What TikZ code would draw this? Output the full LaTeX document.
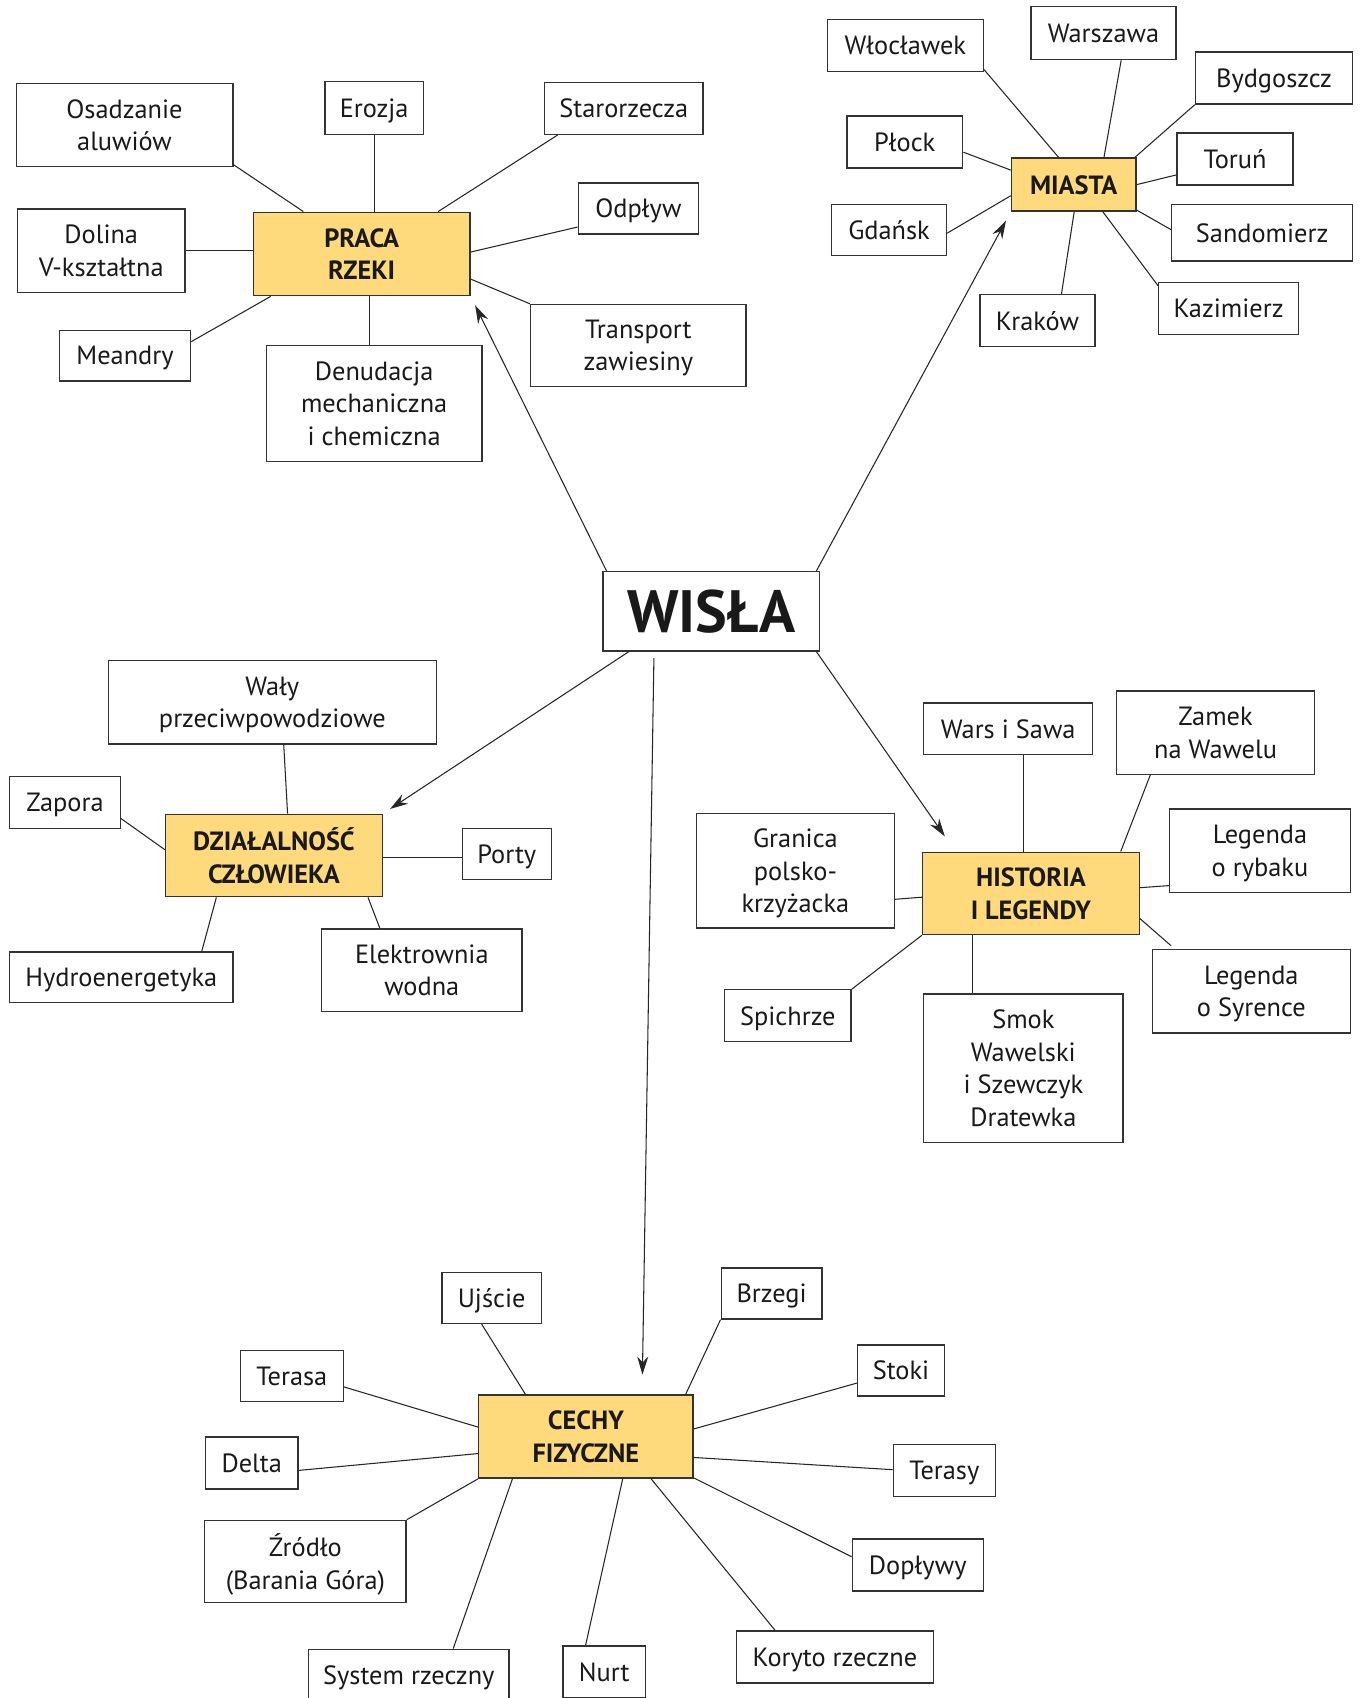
\documentclass[tikz,border=0pt]{standalone}
\usepackage{fontspec}
\setmainfont{PT Sans}
\usetikzlibrary{arrows.meta}

\definecolor{hubyellow}{RGB}{254,218,125}
\newcommand{\pxu}{0.02165cm}

\begin{document}
\begin{tikzpicture}[x=\pxu, y=-\pxu,
    leaf/.style={draw=black!80, line width=0.8pt, fill=white, align=center, inner sep=0pt, text depth=0pt, text=black!90, font=\fontsize{15}{18.5}\selectfont},
    hub/.style={leaf, fill=hubyellow, font=\fontsize{15}{18.5}\selectfont\bfseries},
    sz/.style 2 args={minimum width=#1*\pxu, minimum height=#2*\pxu},
    link/.style={draw=black!85, line width=0.6pt},
    arr/.style={link, -{Stealth[length=3.6mm, width=2.2mm]}}]

    % Page frame
    \fill[white] (0,0) rectangle (1258,1568);
    \useasboundingbox (0,0) rectangle (1258,1568);

    % Draw the PRACA RZEKI group
    \node[hub, sz={200}{77}] (praca) at (334,234.5) {PRACA\\RZEKI};
    \node[leaf, sz={200}{77}] (osadzanie) at (115,115.5) {Osadzanie\\aluwiów};
    \node[leaf, sz={91}{49}] (erozja) at (345.5,99.5) {Erozja};
    \node[leaf, sz={146}{48}] (starorzecza) at (576,100) {Starorzecza};
    \node[leaf, sz={111}{47}] (odplyw) at (589.5,192.5) {Odpływ};
    \node[leaf, sz={155}{77}] (dolina) at (93.5,231.5) {Dolina\\V-kształtna};
    \node[leaf, sz={121}{47}] (meandry) at (115.5,328.5) {Meandry};
    \node[leaf, sz={199}{107}] (denudacja) at (345.5,372.5) {Denudacja\\mechaniczna\\i chemiczna};
    \node[leaf, sz={199}{76}] (transport) at (589.5,319) {Transport\\zawiesiny};

    \draw[link] (osadzanie.-20) -- (praca.144);
    \draw[link] (erozja.south) -- (erozja.south |- praca.north);
    \draw[link] (starorzecza.202) -- (praca.29);
    \draw[link] (odplyw.197) -- (praca.1);
    \draw[link] (dolina.east) -- (dolina.east -| praca.west);
    \draw[link] (meandry.12) -- (praca.205);
    \draw[link] (praca.-80) -- (praca.-80 |- denudacja.north);
    \draw[link] (transport.159) -- (praca.-13);

    % Draw the MIASTA group
    \node[hub, sz={115}{49}] (miasta) at (991.5,170.5) {MIASTA};
    \node[leaf, sz={144}{48}] (wloclawek) at (836,42) {Włocławek};
    \node[leaf, sz={134}{49}] (warszawa) at (1019,30.5) {Warszawa};
    \node[leaf, sz={145}{48}] (bydgoszcz) at (1176.5,72) {Bydgoszcz};
    \node[leaf, sz={107}{48}] (plock) at (835.5,131) {Płock};
    \node[leaf, sz={107}{48}] (torun) at (1140.5,147) {Toruń};
    \node[leaf, sz={106}{47}] (gdansk) at (821,212.5) {Gdańsk};
    \node[leaf, sz={167}{52}] (sandomierz) at (1165.5,215) {Sandomierz};
    \node[leaf, sz={106}{48}] (krakow) at (958,296) {Kraków};
    \node[leaf, sz={129}{48}] (kazimierz) at (1134.5,285) {Kazimierz};

    \draw[link] (wloclawek.-17) -- (miasta.119);
    \draw[link] (warszawa.-57) -- (miasta.42);
    \draw[link] (bydgoszcz.south west) -- (miasta.24);
    \draw[link] (plock.-10) -- (miasta.167);
    \draw[link] (torun.195) -- (miasta.0);
    \draw[link] (gdansk.-3) -- (miasta.190);
    \draw[link] (sandomierz.178) -- (miasta.-22);
    \draw[link] (krakow.48) -- (miasta.-89);
    \draw[link] (kazimierz.162) -- (miasta.-43);

    % Draw the DZIAŁALNOŚĆ CZŁOWIEKA group
    \node[hub, sz={200}{76}] (dzialalnosc) at (253,790) {DZIAŁALNOŚĆ\\CZŁOWIEKA};
    \node[leaf, sz={303}{77}] (waly) at (251.5,648.5) {Wały\\przeciwpowodziowe};
    \node[leaf, sz={102}{48}] (zapora) at (60,741) {Zapora};
    \node[leaf, sz={82}{47}] (porty) at (468,788.5) {Porty};
    \node[leaf, sz={206}{47}] (hydro) at (112,902.5) {Hydroenergetyka};
    \node[leaf, sz={185}{76}] (elektrownia) at (389.5,896) {Elektrownia\\wodna};

    \draw[link] (waly.-75) -- (dzialalnosc.72);
    \draw[link] (zapora.-16) -- (dzialalnosc.177);
    \draw[link] (porty.185) -- (porty.185 -| dzialalnosc.east);
    \draw[link] (hydro.18) -- (dzialalnosc.216);
    \draw[link] (elektrownia.135) -- (dzialalnosc.-24);

    % Draw the HISTORIA I LEGENDY group
    \node[hub, sz={200}{76}] (historia) at (952,825) {HISTORIA\\I LEGENDY};
    \node[leaf, sz={156}{48}] (wars) at (931,673) {Wars i Sawa};
    \node[leaf, sz={183}{77}] (zamek) at (1122.5,676.5) {Zamek\\na Wawelu};
    \node[leaf, sz={183}{106}] (granica) at (734.5,804) {Granica\\polsko-\\krzyżacka};
    \node[leaf, sz={167}{77}] (rybak) at (1163.5,785.5) {Legenda\\o rybaku};
    \node[leaf, sz={117}{48}] (spichrze) at (727.5,938) {Spichrze};
    \node[leaf, sz={184}{137}] (smok) at (945,986.5) {Smok\\Wawelski\\i Szewczyk\\Dratewka};
    \node[leaf, sz={183}{77}] (syrena) at (1155.5,915.5) {Legenda\\o Syrence};

    \draw[link] (wars.-60) -- (wars.-60 |- historia.north);
    \draw[link] (zamek.213) -- (historia.25);
    \draw[link] (granica.-16) -- (historia.182);
    \draw[link] (rybak.201) -- (historia.3);
    \draw[link, shorten >=1mm] (historia.-13) -- (syrena.151);
    \draw[link] (spichrze.north east) -- (historia.south west);
    \draw[link] (smok.124) -- (smok.124 |- historia.south);

    % Draw the CECHY FIZYCZNE group
    \node[hub, sz={198}{77}] (cechy) at (541,1326.5) {CECHY\\FIZYCZNE};
    \node[leaf, sz={92}{47}] (ujscie) at (454,1198.5) {Ujście};
    \node[leaf, sz={93}{47}] (brzegi) at (712.5,1194.5) {Brzegi};
    \node[leaf, sz={95}{47}] (terasa) at (269.5,1270.5) {Terasa};
    \node[leaf, sz={80}{47}] (stoki) at (832,1265.5) {Stoki};
    \node[leaf, sz={85}{48}] (delta) at (232.5,1351) {Delta};
    \node[leaf, sz={94}{48}] (terasy) at (872,1358) {Terasy};
    \node[leaf, sz={186}{76}] (zrodlo) at (282,1442) {Źródło\\(Barania Góra)};
    \node[leaf, sz={121}{48}] (doplywy) at (847.5,1445) {Dopływy};
    \node[leaf, sz={185}{48}] (system) at (377.5,1547) {System rzeczny};
    \node[leaf, sz={76}{48}] (nurt) at (558,1544) {Nurt};
    \node[leaf, sz={182}{48}] (koryto) at (771,1530) {Koryto rzeczne};

    \draw[link] (ujscie.249) -- (cechy.145);
    \draw[link] (brzegi.south west) -- (cechy.23);
    \draw[link] (terasa.-12) -- (cechy.175);
    \draw[link] (stoki.196) -- (cechy.4);
    \draw[link] (delta.-9) -- (cechy.189);
    \draw[link] (terasy.179) -- (cechy.-11);
    \draw[link] (zrodlo.north east) -- (cechy.south west);
    \draw[link] (doplywy.173) -- (cechy.-21);
    \draw[link] (system.31) -- (cechy.210);
    \draw[link] (nurt.125) -- (cechy.-49);
    \draw[link] (koryto.156) -- (cechy.-33);

    % Draw the central WISŁA box and its arrows
    \node[leaf, sz={200}{73}, font=\fontsize{34}{40}\selectfont\bfseries] (wisla) at (657,564.5) {WISŁA};

    \draw[arr, shorten >=2mm] (wisla.159) -- (praca.south east);
    \draw[arr, shorten >=2mm] (wisla.21) -- (miasta.south west);
    \draw[arr, shorten >=1.7mm] (wisla.206) -- (dzialalnosc.north east);
    \draw[arr, shorten >=3.7mm] (wisla.-21) -- (historia.151);
    \draw[arr, shorten <=1.3mm, shorten >=3.9mm] (wisla.215) -- (cechy.37);

\end{tikzpicture}
\end{document}
